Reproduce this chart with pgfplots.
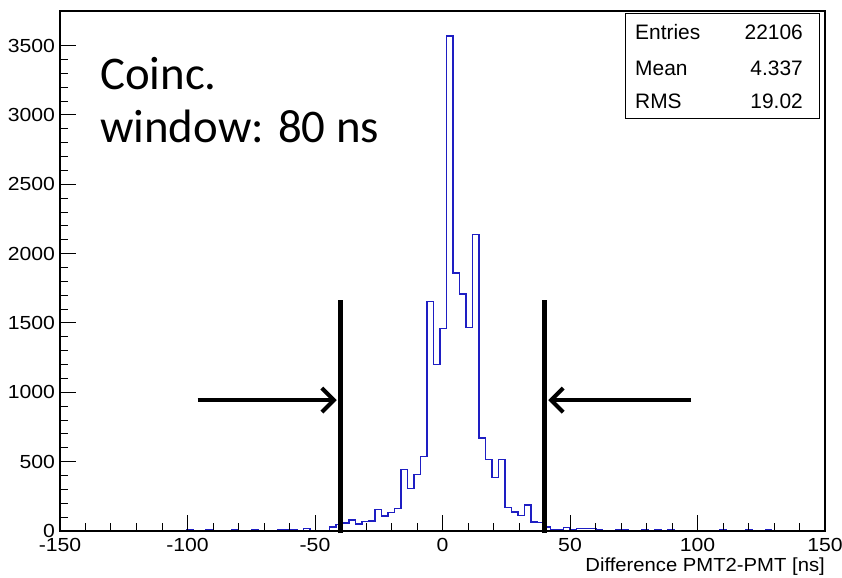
\documentclass[border=0pt]{standalone}
\usepackage{fontspec}
\setmainfont{Liberation Sans}
\newfontfamily\calibri{Carlito}
\usepackage{pgfplots}
\pgfplotsset{compat=1.18}
\usetikzlibrary{arrows.meta}
\definecolor{histblue}{RGB}{30,30,195}
\begin{document}
\begin{tikzpicture}[x=1bp,y=1bp]
\useasboundingbox (-60,-47) rectangle (782,531);
\begin{axis}[at={(0,0)}, anchor=south west, scale only axis,
  width=765bp, height=520bp,
  xmin=-150, xmax=150, ymin=0, ymax=3750,
  xtick={-150,-100,...,150}, ytick={0,500,...,3500},
  minor x tick num=4, minor y tick num=4,
  tick align=inside, xtick pos=bottom, ytick pos=left,
  major tick length=16bp, minor tick length=8bp,
  axis line style={line width=1.2bp},
  every tick/.style={line width=1bp, black},
  /pgf/number format/assume math mode=true,
  /pgf/number format/1000 sep={},
  ticklabel style={font=\fontsize{19}{19}\selectfont, xscale=1.12},
  xticklabel style={yshift=-4bp},
  yticklabel style={xshift=-1bp},
  axis on top, clip=false]
\addplot[const plot mark left, histblue, line width=1.3bp] coordinates {
(-150,0)
(-100.4,8) (-97.85,0)
(-92.75,8) (-90.2,0)
(-82.55,8) (-80.0,0)
(-74.9,8) (-72.35,0)
(-64.7,8) (-62.15,8) (-59.6,8) (-57.05,0)
(-54.5,17) (-51.95,6) (-49.4,6) (-46.85,6)
(-44.3,29) (-41.75,45) (-39.2,57) (-36.65,80) (-34.1,51) (-31.55,70)
(-29.0,72) (-26.45,156) (-23.9,108) (-21.35,132) (-18.8,161) (-16.25,445)
(-13.7,305) (-11.15,405) (-8.6,535) (-6.05,1656) (-3.5,1200) (-0.95,1460)
(1.6,3570) (4.15,1860) (6.7,1710) (9.25,1465) (11.8,2140) (14.35,670)
(16.9,516) (19.45,384) (22.0,516) (24.55,168) (27.1,137) (29.65,112)
(32.2,188) (34.75,65) (37.3,60) (39.85,28) (42.4,8) (44.95,12) (47.5,25)
(50.05,8) (52.6,18) (55.15,18) (57.7,18) (60.25,8) (62.8,4) (65.35,6)
(67.9,8) (70.45,8) (73.0,0)
(78.1,8) (80.65,0) (83.2,8) (85.75,0) (88.3,8) (90.85,0)
(108.7,8) (111.25,0) (118.9,8) (121.45,0) (126.55,8) (129.1,0) (150,0)
};
\draw[line width=5bp] (axis cs:-40,-15) -- (axis cs:-40,1664);
\draw[line width=5bp] (axis cs:40,-15) -- (axis cs:40,1664);
\draw[line width=4bp, -{Straight Barb[length=12bp,width=24bp]}] (axis cs:-96,944) -- (axis cs:-41.5,944);
\draw[line width=4bp, -{Straight Barb[length=12bp,width=24bp]}] (axis cs:97.5,944) -- (axis cs:41.5,944);
\end{axis}
\node[anchor=base east, inner sep=0pt, xscale=1.07, font=\fontsize{19}{19}\selectfont] at (765,-41) {Difference PMT2-PMT [ns]};
\draw[line width=1bp] (565,517) rectangle (759,412);
\begin{scope}[every node/.style={inner sep=0pt, font=\fontsize{21}{21}\selectfont}]
\node[anchor=base west] at (575,491) {Entries};
\node[anchor=base east] at (743,491) {22106};
\node[anchor=base west] at (575,455) {Mean};
\node[anchor=base east] at (743,455) {4.337};
\node[anchor=base west] at (575,422) {RMS};
\node[anchor=base east] at (743,422) {19.02};
\end{scope}
\node[anchor=base west, inner sep=0pt, font=\calibri\fontsize{47}{47}\selectfont] at (40,441) {Coinc.};
\node[anchor=base west, inner sep=0pt, font=\calibri\fontsize{47}{47}\selectfont] at (40,388) {window: 80 ns};
\end{tikzpicture}
\end{document}
